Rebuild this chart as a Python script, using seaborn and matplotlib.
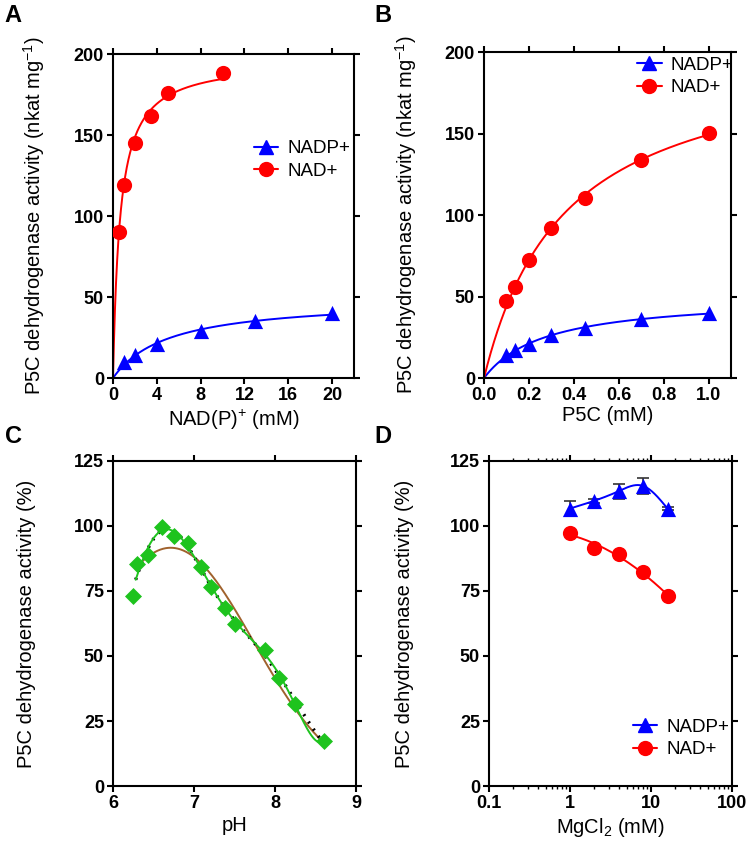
import numpy as np
import matplotlib
matplotlib.use("Agg")
import matplotlib.pyplot as plt
import matplotlib.ticker as mticker
from matplotlib.lines import Line2D
import seaborn as sns

# --- data ---
# A: NAD(P)+ saturation
a_nad_x = [0.5, 1, 2, 3.5, 5, 10]
a_nad_y = [90, 119, 145, 162, 176, 188]
a_nadp_x = [1, 2, 4, 8, 13, 20]
a_nadp_y = [10, 14, 21, 29, 35, 40]

# B: P5C saturation
b_x = [0.1, 0.14, 0.2, 0.3, 0.45, 0.7, 1.0]
b_nad_y = [47, 56, 72.5, 92, 110.5, 134, 150.5]
b_nadp_y = [14, 17, 21, 26.5, 30.5, 36, 40]

# C: pH profile
c_ph = [6.25, 6.29, 6.43, 6.60, 6.75, 6.92, 7.08, 7.21, 7.38, 7.51, 7.88, 8.05, 8.25, 8.60]
c_act = [73.1, 85.3, 88.9, 99.7, 96.2, 93.6, 84.3, 76.4, 68.5, 62.4, 52.2, 41.4, 31.5, 17.4]

# D: MgCl2
d_mg = [1, 2, 4, 8, 16]
d_nadp_y = [106.7, 109.7, 113.4, 115.4, 106.7]
d_nadp_err = [2.9, 0.8, 2.9, 3.0, 0.5]
d_nad_y = [97.3, 91.5, 89.2, 82.2, 73.1]

BLUE = "#0000FF"
RED = "#FF0000"
GREEN = "#1EC31E"
BROWN = "#A0622D"


def mm_fit(x, y):
    x = np.asarray(x, float)
    y = np.asarray(y, float)
    best = None
    for k in np.geomspace(1e-3, 100, 20000):
        f = x / (k + x)
        v = (y * f).sum() / (f * f).sum()
        err = ((y - v * f) ** 2).sum()
        if best is None or err < best[0]:
            best = (err, v, k)
    return best[1], best[2]


def natural_spline(x, y, xs):
    x = np.asarray(x, float)
    y = np.asarray(y, float)
    n = len(x)
    h = np.diff(x)
    A = np.zeros((n, n))
    b = np.zeros(n)
    A[0, 0] = A[-1, -1] = 1
    for i in range(1, n - 1):
        A[i, i - 1] = h[i - 1]
        A[i, i] = 2 * (h[i - 1] + h[i])
        A[i, i + 1] = h[i]
        b[i] = 3 * ((y[i + 1] - y[i]) / h[i] - (y[i] - y[i - 1]) / h[i - 1])
    c = np.linalg.solve(A, b)
    bc = (y[1:] - y[:-1]) / h - h * (2 * c[:-1] + c[1:]) / 3
    d = (c[1:] - c[:-1]) / (3 * h)
    idx = np.clip(np.searchsorted(x, xs) - 1, 0, n - 2)
    dx = xs - x[idx]
    return y[idx] + bc[idx] * dx + c[idx] * dx ** 2 + d[idx] * dx ** 3


def gauss1(p, x):
    a, m, s = p
    return a * np.exp(-(x - m) ** 2 / (2 * s ** 2))


def gauss2(p, x):
    return gauss1(p[:3], x) + gauss1(p[3:], x)


def lm_fit(f, p0, x, y, iters=400):
    # small Levenberg-Marquardt, numeric jacobian
    p = np.asarray(p0, float)
    lam = 1e-2
    sse = ((y - f(p, x)) ** 2).sum()
    for _ in range(iters):
        r = y - f(p, x)
        J = np.empty((len(x), len(p)))
        for j in range(len(p)):
            dp = np.zeros_like(p)
            dp[j] = 1e-6 * max(1.0, abs(p[j]))
            J[:, j] = (f(p + dp, x) - f(p, x)) / dp[j]
        A = J.T @ J
        g = J.T @ r
        step = np.linalg.solve(A + lam * np.diag(np.diag(A) + 1e-9), g)
        new = ((y - f(p + step, x)) ** 2).sum()
        if new < sse:
            p, sse, lam = p + step, new, lam / 3
        else:
            lam *= 4
    return p


sns.set_theme(style="ticks")
plt.rcParams["font.family"] = ["Liberation Sans", "DejaVu Sans"]
plt.rcParams["mathtext.default"] = "regular"
for key in ["text.color", "axes.labelcolor", "xtick.color", "ytick.color", "axes.edgecolor"]:
    plt.rcParams[key] = "black"
plt.rcParams["axes.linewidth"] = 1.5

fig = plt.figure(figsize=(7.51, 8.48), dpi=100)
axA = fig.add_axes([0.1505, 0.5542, 0.3209, 0.3821])
axB = fig.add_axes([0.6445, 0.5542, 0.3289, 0.3844])
axC = fig.add_axes([0.1505, 0.0731, 0.3236, 0.3833])
axD = fig.add_axes([0.6511, 0.0731, 0.3236, 0.3833])

ylab_mg = "P5C dehydrogenase activity (nkat mg$^{-1}$)"
ylab_pc = "P5C dehydrogenase activity (%)"
LAB = 14.5
MS = 120


def style(ax, xticks, yticks, xlim, ylim, log=False):
    ax.set_xlim(*xlim)
    ax.set_ylim(*ylim)
    if log:
        ax.set_xscale("log")
        ax.xaxis.set_major_locator(mticker.FixedLocator(xticks))
        ax.xaxis.set_major_formatter(mticker.FixedFormatter(["0.1", "1", "10", "100"]))
        ax.xaxis.set_minor_locator(mticker.LogLocator(base=10, subs=np.arange(2, 10)))
        ax.xaxis.set_minor_formatter(mticker.NullFormatter())
    else:
        ax.set_xticks(xticks)
    ax.set_yticks(yticks)
    for s in ax.spines.values():
        s.set_visible(True)
        s.set_linewidth(1.5)
        s.set_color("black")
    ax.tick_params(which="major", direction="out", length=4.5, width=1.5,
                   labelsize=13, top=True, right=True, pad=2, colors="black")
    ax.tick_params(which="minor", direction="out", length=2.5, width=1.0,
                   top=True, right=True, colors="black")
    for lab in ax.get_xticklabels() + ax.get_yticklabels():
        lab.set_fontweight("bold")


def legend(ax, anchor):
    h = [Line2D([0], [0], color=BLUE, marker="^", markersize=10, lw=1.5),
         Line2D([0], [0], color=RED, marker="o", markersize=10, lw=1.5)]
    ax.legend(h, ["NADP+", "NAD+"], loc="center left", bbox_to_anchor=anchor,
              frameon=False, fontsize=13.5, handlelength=1.3, handletextpad=0.5,
              borderpad=0, borderaxespad=0, labelspacing=0.3)


# --- A ---
for xs_, ys_, col, mk in [(a_nadp_x, a_nadp_y, BLUE, "^"), (a_nad_x, a_nad_y, RED, "o")]:
    v, k = mm_fit(xs_, ys_)
    xx = np.linspace(0, max(xs_), 400)
    sns.lineplot(x=xx, y=v * xx / (k + xx), ax=axA, color=col, lw=1.4, estimator=None)
    sns.scatterplot(x=xs_, y=ys_, ax=axA, color=col, marker=mk, s=MS, linewidth=0, zorder=3)
style(axA, [0, 4, 8, 12, 16, 20], [0, 50, 100, 150, 200], (0, 22), (0, 200))
legend(axA, (0.585, 0.673))
axA.set_xlabel("NAD(P)$^{+}$ (mM)", fontsize=LAB)
axA.set_ylabel(ylab_mg, fontsize=LAB)
axA.xaxis.set_label_coords(0.5, -0.093)
axA.yaxis.set_label_coords(-0.275, 0.5)

# --- B ---
for ys_, col, mk in [(b_nadp_y, BLUE, "^"), (b_nad_y, RED, "o")]:
    v, k = mm_fit(b_x, ys_)
    xx = np.linspace(0, max(b_x), 400)
    sns.lineplot(x=xx, y=v * xx / (k + xx), ax=axB, color=col, lw=1.4, estimator=None)
    sns.scatterplot(x=b_x, y=ys_, ax=axB, color=col, marker=mk, s=MS, linewidth=0, zorder=3)
style(axB, [0, 0.2, 0.4, 0.6, 0.8, 1.0], [0, 50, 100, 150, 200], (0, 1.1), (0, 200))
axB.set_xticklabels(["0.0", "0.2", "0.4", "0.6", "0.8", "1.0"], fontweight="bold")
legend(axB, (0.62, 0.925))
axB.set_xlabel("P5C (mM)", fontsize=LAB)
axB.set_ylabel(ylab_mg, fontsize=LAB)
axB.xaxis.set_label_coords(0.5, -0.086)
axB.yaxis.set_label_coords(-0.262, 0.5)

# --- C ---
ph = np.asarray(c_ph)
act = np.asarray(c_act)
xx = np.linspace(ph[0] + 0.03, ph[-1], 400)
# single gaussian
p1 = lm_fit(gauss1, [95, 6.7, 1.0], ph, act)
sns.lineplot(x=xx, y=gauss1(p1, xx), ax=axC, color=BROWN, lw=1.4, estimator=None)
# sum of two gaussians (dotted)
p2 = lm_fit(gauss2, [40, 6.75, 0.15, 85, 7.4, 0.8], ph, act)
sns.lineplot(x=xx, y=gauss2(p2, xx), ax=axC, color="black", lw=2.4,
             linestyle=(0, (0.6, 2.0)), estimator=None)
# smooth polynomial on top
sns.lineplot(x=xx, y=np.polyval(np.polyfit(ph - 7.4, act, 6), xx - 7.4), ax=axC, color=GREEN,
             lw=1.4, estimator=None)
sns.scatterplot(x=c_ph, y=c_act, ax=axC, color=GREEN, marker="D", s=75, linewidth=0, zorder=3)
style(axC, [6, 7, 8, 9], [0, 25, 50, 75, 100, 125], (6, 9), (0, 125))
axC.set_xlabel("pH", fontsize=LAB)
axC.set_ylabel(ylab_pc, fontsize=LAB)
axC.xaxis.set_label_coords(0.5, -0.092)
axC.yaxis.set_label_coords(-0.315, 0.5)

# --- D ---
lg = np.log10(d_mg)
xx = np.linspace(lg[0], lg[-1], 400)
axD.errorbar(d_mg, d_nadp_y, yerr=d_nadp_err, fmt="none", ecolor="#333333",
             elinewidth=1.2, capsize=4, capthick=1.2, zorder=2)
sns.lineplot(x=10 ** xx, y=natural_spline(lg, d_nadp_y, xx), ax=axD, color=BLUE, lw=1.4, estimator=None)
sns.lineplot(x=10 ** xx, y=np.polyval(np.polyfit(lg, d_nad_y, 2), xx), ax=axD, color=RED, lw=1.4,
             estimator=None)
sns.scatterplot(x=d_mg, y=d_nadp_y, ax=axD, color=BLUE, marker="^", s=MS, linewidth=0, zorder=3)
sns.scatterplot(x=d_mg, y=d_nad_y, ax=axD, color=RED, marker="o", s=MS, linewidth=0, zorder=3)
style(axD, [0.1, 1, 10, 100], [0, 25, 50, 75, 100, 125], (0.1, 100), (0, 125), log=True)
legend(axD, (0.593, 0.146))
axD.set_xlabel("MgCl$_{2}$ (mM)", fontsize=LAB)
axD.set_ylabel(ylab_pc, fontsize=LAB)
axD.xaxis.set_label_coords(0.5, -0.092)
axD.yaxis.set_label_coords(-0.31, 0.5)

for lbl, x, y in [("A", 0.006, 0.995), ("B", 0.499, 0.995), ("C", 0.006, 0.499), ("D", 0.499, 0.499)]:
    fig.text(x, y, lbl, fontsize=17, fontweight="bold", va="top", ha="left")

fig.savefig("out.png", dpi=100)
